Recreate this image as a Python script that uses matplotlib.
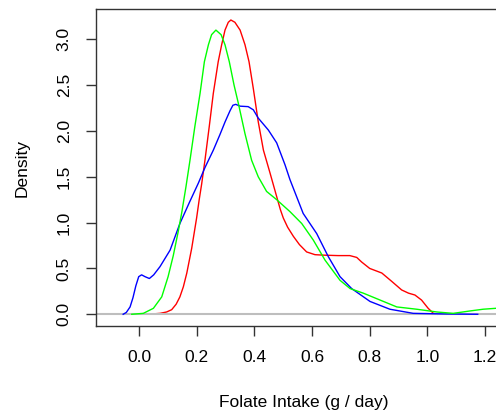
import numpy as np
import matplotlib
matplotlib.use("Agg")
import matplotlib.pyplot as plt

plt.rcParams['font.family'] = ['Liberation Sans', 'DejaVu Sans']

# density curves
red_x = [0.014, 0.04, 0.072, 0.095, 0.1125, 0.128, 0.141, 0.153, 0.165, 0.182, 0.199,
         0.208, 0.2165, 0.228, 0.243, 0.257, 0.274, 0.286, 0.2976, 0.309, 0.318, 0.332,
         0.35, 0.367, 0.381, 0.396, 0.413, 0.431, 0.454, 0.48, 0.49, 0.5, 0.515, 0.535,
         0.556, 0.581, 0.610, 0.639, 0.69, 0.731, 0.755, 0.772, 0.80, 0.842, 0.876,
         0.911, 0.935, 0.957, 0.98, 1.003, 1.021, 1.035]
red_y = [0, 0.002, 0.01, 0.025, 0.05, 0.11, 0.19, 0.30, 0.45, 0.72, 1.05,
         1.25, 1.42, 1.68, 2.05, 2.41, 2.755, 2.94, 3.10, 3.185, 3.21, 3.185,
         3.10, 2.94, 2.755, 2.46, 2.10, 1.79, 1.54, 1.25, 1.14, 1.05, 0.95, 0.85,
         0.76, 0.68, 0.65, 0.645, 0.64, 0.64, 0.62, 0.57, 0.50, 0.45, 0.36,
         0.265, 0.23, 0.21, 0.155, 0.065, 0.01, 0.0]

blue_x = [-0.056, -0.045, -0.032, -0.022, -0.012, -0.002, 0.008, 0.02, 0.035, 0.05, 0.072,
          0.107, 0.141, 0.174, 0.205, 0.228, 0.257, 0.280, 0.298, 0.315, 0.325, 0.335,
          0.35, 0.378, 0.396, 0.413, 0.448, 0.477, 0.506, 0.523, 0.569, 0.616, 0.656,
          0.697, 0.7375, 0.801, 0.870, 0.951, 1.067, 1.175]
blue_y = [0, 0.02, 0.08, 0.18, 0.31, 0.41, 0.43, 0.41, 0.39, 0.43, 0.52,
          0.70, 0.99, 1.22, 1.43, 1.60, 1.79, 1.96, 2.10, 2.22, 2.28, 2.29,
          2.27, 2.265, 2.23, 2.14, 2.01, 1.87, 1.63, 1.47, 1.10, 0.88, 0.63,
          0.41, 0.28, 0.14, 0.055, 0.01, 0.003, 0.0]

green_x = [-0.026, 0.014, 0.049, 0.078, 0.10, 0.118, 0.135, 0.148, 0.162, 0.176, 0.193,
           0.211, 0.226, 0.240, 0.251, 0.266, 0.284, 0.2976, 0.3125, 0.329, 0.344, 0.367,
           0.39, 0.413, 0.442, 0.477, 0.523, 0.564, 0.604, 0.645, 0.697, 0.732, 0.778,
           0.836, 0.894, 0.963, 1.033, 1.09, 1.148, 1.194, 1.238, 1.26]
green_y = [0, 0.01, 0.065, 0.19, 0.41, 0.64, 0.90, 1.12, 1.39, 1.68, 2.05,
           2.41, 2.755, 2.94, 3.05, 3.10, 3.05, 2.94, 2.755, 2.50, 2.30, 1.97,
           1.68, 1.50, 1.34, 1.25, 1.12, 0.99, 0.81, 0.59, 0.37, 0.28, 0.23,
           0.155, 0.08, 0.055, 0.025, 0.01, 0.036, 0.055, 0.065, 0.068]

xticks = [0.0, 0.2, 0.4, 0.6, 0.8, 1.0, 1.2]
yticks = [0.0, 0.5, 1.0, 1.5, 2.0, 2.5, 3.0]

fig = plt.figure(figsize=(4.96, 4.18), dpi=100)
ax = fig.add_axes([96/496, 92/418, 400/496, 317/418])

ax.plot(red_x, red_y, color='#FF0000', lw=1.0)
ax.axhline(0, color='#BEBEBE', lw=1.5)
ax.plot(blue_x, blue_y, color='#0000FF', lw=1.0)
ax.plot(green_x, green_y, color='#00FF00', lw=1.0)

ax.set_xlim(-0.1503, 1.2385)
ax.set_ylim(-0.128, 3.33)
ax.set_xticks(xticks)
ax.set_xticklabels(['%.1f' % v for v in xticks])
ax.set_yticks(yticks)
ax.set_yticklabels(['%.1f' % v for v in yticks], rotation=90, va='center')
ax.tick_params(length=7.5, width=1.0, labelsize=12.5, color='#333333')
ax.tick_params(axis='x', pad=10)
ax.tick_params(axis='y', pad=10)
ax.spines['right'].set_visible(False)
for s in ['left', 'top', 'bottom']:
    ax.spines[s].set_linewidth(1.0)
    ax.spines[s].set_color('#333333')

fig.text(303.5/496, 1 - 402/418, 'Folate Intake (g / day)', ha='center', va='center', fontsize=12.5)
fig.text(22/496, 1 - 167.5/418, 'Density', ha='center', va='center', rotation=90, fontsize=12.5)

fig.savefig('out.png', dpi=100)
